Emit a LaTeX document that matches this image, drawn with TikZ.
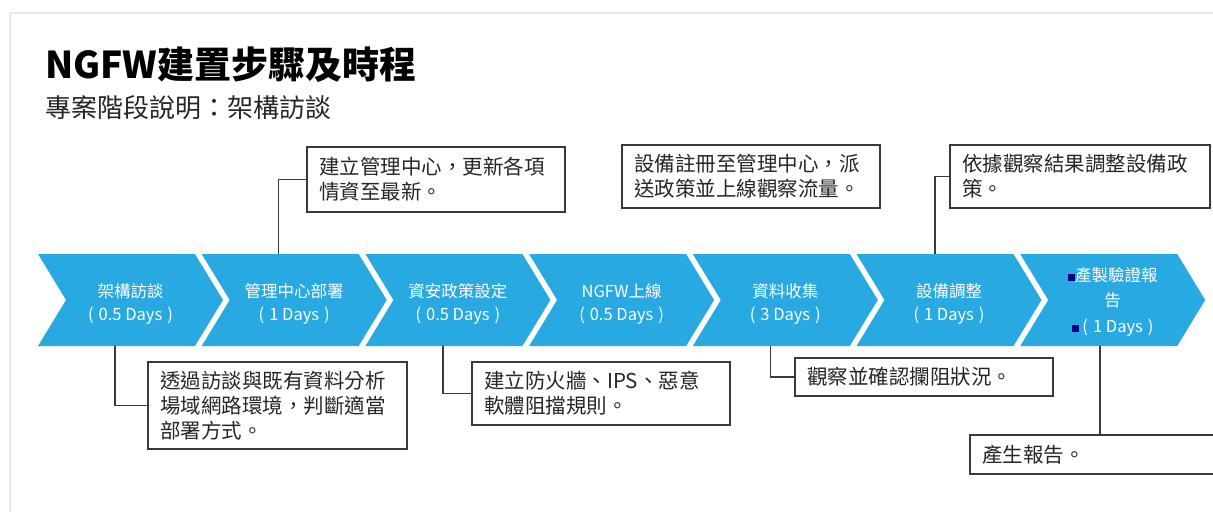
\documentclass[tikz,border=0pt]{standalone}
\usepackage{fontspec}
\setmainfont[Script=CJK, Language=Chinese Traditional]{Noto Sans CJK TC}
\usetikzlibrary{backgrounds,calc}
\definecolor{chev}{HTML}{29A9E1}
\definecolor{navy}{HTML}{00007F}
\definecolor{edgec}{HTML}{3A3A3A}
\definecolor{framec}{HTML}{E8E8E8}
\newcommand\navysq{\textcolor{navy}{\rule{7.5pt}{7.5pt}}}
\newcommand\topstrut{\rule{0pt}{21pt}}
\newcommand\dd[1]{(\hspace{5pt}#1 Days\hspace{5pt})}
\tikzset{
  stage/.style={minimum width=185pt, minimum height=92pt, inner sep=0pt, outer sep=0pt,
    text=white, align=center, font=\fontsize{16.5}{23}\selectfont},
  note/.style={draw=edgec, line width=1.3pt, fill=white, anchor=north west,
    inner xsep=12pt, inner ysep=0pt, outer sep=0pt, align=left,
    font=\fontsize{20.5}{25}\selectfont, text=black!85},
  link/.style={draw=edgec, line width=1.2pt},
}
\begin{document}
\begin{tikzpicture}[x=1pt,y=-1pt]
\useasboundingbox (0,0) rectangle (1213,512);
\draw[framec, line width=1.2pt] (1213,13) -- (10,13) -- (10,512);

\node[anchor=base west, inner sep=0pt, font=\fontsize{37}{37}\selectfont\bfseries] (title) at (45,78) {NGFW建置步驟及時程};
\node[anchor=base west, inner sep=0pt, font=\fontsize{26}{26}\selectfont, text=black!85] (sub) at (45,117) {專案階段說明：架構訪談};

\node[stage] (c1) at (130.5,300) {\topstrut 架構訪談\\\dd{0.5}};
\node[stage] (c2) at (294.2,300) {\topstrut 管理中心部署\\\dd{1}};
\node[stage] (c3) at (457.9,300) {\topstrut 資安政策設定\\\dd{0.5}};
\node[stage] (c4) at (621.6,300) {\topstrut NGFW上線\\\dd{0.5}};
\node[stage] (c5) at (785.3,300) {\topstrut 資料收集\\\dd{3}};
\node[stage] (c6) at (949.0,300) {\topstrut 設備調整\\\dd{1}};
\node[stage, font=\fontsize{16.5}{25.5}\selectfont] (c7) at (1112.7,300) {\rule{0pt}{17pt}\navysq 產製驗證報\\告\\\navysq\hspace{3pt}\dd{1}};

\begin{scope}[on background layer]
\foreach \nm in {c1,c2,c3,c4,c5,c6,c7}
  \fill[chev] (\nm.north west) -- ([xshift=-28pt]\nm.north east) -- (\nm.east)
    -- ([xshift=-28pt]\nm.south east) -- (\nm.south west) -- ([xshift=28pt]\nm.west) -- cycle;
\end{scope}

\node[note, text width=234pt, minimum height=65pt] (nA) at (307,147) {建立管理中心，更新各項\\情資至最新。};
\node[note, text width=234pt, minimum height=63pt] (nB) at (622,145) {設備註冊至管理中心，派\\送政策並上線觀察流量。};
\node[note, text width=236pt, minimum height=63pt] (nC) at (950,145) {依據觀察結果調整設備政\\策。};
\node[note, text width=235pt, minimum height=87pt] (nD) at (148,362) {透過訪談與既有資料分析\\場域網路環境，判斷適當\\部署方式。};
\node[note, text width=234pt, minimum height=63pt] (nE) at (472,362) {建立防火牆、IPS、惡意\\軟體阻擋規則。};
\node[note, text width=234pt, minimum height=38pt] (nF) at (795,358) {觀察並確認攔阻狀況。};
\node[note, text width=246pt, minimum height=39pt] (nG) at (970,435) {產生報告。};

\draw[link] ([xshift=-16pt]c2.north) |- (nA.west);
\draw[link] ([xshift=-14pt]c6.north) |- (nC.west);
\draw[link] ([xshift=-15.5pt]c1.south) |- (nD.west);
\draw[link] ([xshift=-15pt]c3.south) |- (nE.west);
\draw[link] ([xshift=-15pt]c5.south) |- (nF.west);
\draw[link] ([xshift=-12.7pt]c7.south) -- ([xshift=-12.7pt]c7.south |- nG.north);
\end{tikzpicture}
\end{document}
